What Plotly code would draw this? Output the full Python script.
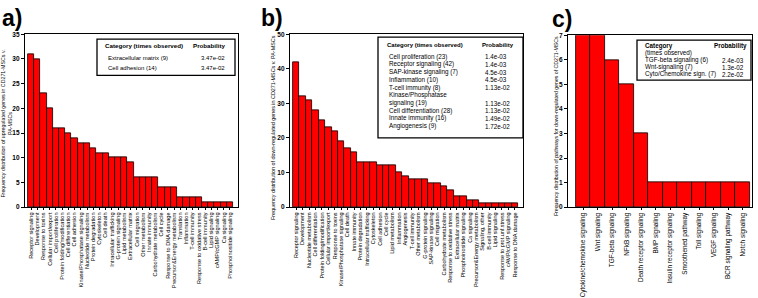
import plotly.graph_objects as go

W, H = 758, 298

# ---------------- data ----------------
cats_a = ["Receptor signaling", "Development", "Response to toxins", "Cellular import/export",
          "Cell proliferation", "Protein folding/modification", "Cell differentiation", "Cell adhesion",
          "Kinase/Phosphatase signaling", "Nucleotide metabolism", "Protein degradation", "Cytoskeleton",
          "Cell death", "Intracellular trafficking", "G-protein signaling", "Lipid metabolism",
          "Extracellular matrix", "Cell migration", "Other metabolism", "Innate immunity",
          "Carbohydrate metabolism", "Cell cycle", "Response to DNA damage", "Precursor&Energy metabolism",
          "Translation", "Inflammation", "T-cell immunity", "Response to oxidative stress",
          "B-cell immunity", "Lipid signaling", "cAMP/cGMP signaling", "Ca signaling",
          "Phosphoinositide signaling"]
vals_a = [31, 30, 23, 20, 16, 16, 15, 14, 13, 13, 12, 11, 11, 10, 10, 10, 9, 6, 6, 6, 6,
          4, 4, 4, 2, 2, 2, 2, 1, 1, 1, 1, 1]

cats_b = ["Receptor signaling", "Development", "Nucleotide metabolism", "Cell differentiation",
          "Protein folding/modification", "Cellular import/export", "Response to toxins",
          "Kinase/Phosphatase signaling", "Cell death", "Innate immunity", "Protein degradation",
          "Intracellular trafficking", "Cytoskeleton", "Cell adhesion", "Cell cycle", "Lipid metabolism",
          "Inflammation", "Angiogenesis", "T-cell immunity", "Other metabolism", "G-protein signaling",
          "SAP-kinase signaling", "Cell migration", "Carbohydrate metabolism",
          "Response to oxidative stress", "Extracellular matrix", "Phosphoinositide signaling",
          "Ca signaling", "Precursor&Energy metabolism", "Signaling, other", "B-cell immunity",
          "Lipid signaling", "Response to prot.unf.stress", "cAMP/cGMP signaling",
          "Response to DNA damage"]
vals_b = [42, 32, 31, 28, 25, 23, 22, 19, 17, 16, 13, 13, 13, 12, 12, 12, 10, 9, 8, 8, 8,
          7, 7, 6, 5, 3, 3, 2, 2, 1, 1, 1, 1, 1, 1]

cats_c = ["Cytokine/chemokine signaling", "Wnt signaling", "TGF-beta signaling", "NFkB signaling",
          "Death receptor signaling", "BMP signaling", "Insulin receptor signaling",
          "Smoothened pathway", "Toll signaling", "VEGF signaling", "BCR signaling pathway",
          "Notch signaling"]
vals_c = [7, 7, 6, 5, 3, 1, 1, 1, 1, 1, 1, 1]

leg_a_names = ["Extracellular matrix (9)", "Cell adhesion (14)"]
leg_a_probs = ["3.47e-02", "3.47e-02"]
leg_b_names = ["Cell proliferation (23)", "Receptor signaling (42)", "SAP-kinase signaling (7)",
               "Inflammation (10)", "T-cell immunity (8)", "Kinase/Phosphatase", "signaling (19)",
               "Cell differentiation (28)", "Innate immunity (16)", "Angiogenesis (9)"]
leg_b_probs = ["1.4e-03", "1.4e-03", "4.5e-03", "4.5e-03", "1.13e-02", "", "1.13e-02",
               "1.13e-02", "1.49e-02", "1.72e-02"]
leg_c_names = ["TGF-beta signaling (6)", "Wnt-signaling (7)", "Cyto/Chemokine sign. (7)"]
leg_c_probs = ["2.4e-03", "1.3e-02", "2.2e-02"]

FONT = "Arial, Liberation Sans, sans-serif"


def px(x):
    return x / W


def py(y):
    return 1 - y / H


fig = go.Figure()
for i, (c, v) in enumerate([(cats_a, vals_a), (cats_b, vals_b), (cats_c, vals_c)]):
    sfx = "" if i == 0 else str(i + 1)
    fig.add_trace(go.Bar(x=c, y=v, xaxis="x" + sfx, yaxis="y" + sfx,
                         marker=dict(color="#ff0000", line=dict(color="black", width=0.8)),
                         showlegend=False))

panels = [
    # x0, x1 (px), y top, y bottom, yrange, dtick, xrange, xfont
    (25, 238, 31, 208, [0, 35], 5, [-0.98, 33.3], 5.6),
    (290, 523, 31, 208, [0, 50], 10, [-0.97, 35.28], 5.5),
    (568, 752, 32, 208, [0, 7], 1, [-1.05, 11.64], 6.4),
]

layout = dict(width=W, height=H, margin=dict(l=0, r=0, t=0, b=0),
              paper_bgcolor="white", plot_bgcolor="white", bargap=0,
              font=dict(family=FONT, color="black"))
for i, (x0, x1, yt, yb, yr, dt, xr, xf) in enumerate(panels):
    sfx = "" if i == 0 else str(i + 1)
    layout["xaxis" + sfx] = dict(domain=[px(x0), px(x1)], anchor="y" + sfx, type="category",
                                 range=xr, tickmode="linear", tick0=0, dtick=1,
                                 showline=True, linecolor="black", linewidth=1.3,
                                 mirror=True, ticks="outside", ticklen=2, tickcolor="black",
                                 tickangle=-90, tickfont=dict(size=xf, family=FONT),
                                 showgrid=False, zeroline=False, fixedrange=True)
    layout["yaxis" + sfx] = dict(domain=[py(yb), py(yt)], anchor="x" + sfx, range=yr, dtick=dt,
                                 showline=True, linecolor="black", linewidth=1.3, mirror=True,
                                 ticks="outside", ticklen=3, tickcolor="black",
                                 tickfont=dict(size=6.5, family=FONT),
                                 tickprefix="<b>", ticksuffix="</b>",
                                 showgrid=False, zeroline=False)
fig.update_layout(**layout)

ann = []
shapes = []


def text(x, y, s, size=6, bold=False, xanchor="left", angle=0):
    ann.append(dict(x=px(x), y=py(y), xref="paper", yref="paper", text=("<b>%s</b>" % s) if bold else s,
                    showarrow=False, xanchor=xanchor, yanchor="middle", textangle=angle,
                    font=dict(size=size, family=FONT, color="black")))


# panel letters
text(0, 14, "a)", size=23, bold=True)
text(259, 14, "b)", size=23, bold=True)
text(550, 15, "c)", size=23, bold=True)

# axis titles
ann.append(dict(x=px(6.5), y=py(123), xref="paper", yref="paper",
                text="Frequency distribution of upregulated genes in CD271-MSCs v.<br>PA-MSCs",
                showarrow=False, textangle=-90, xanchor="center", yanchor="middle",
                font=dict(size=5.3, family=FONT, color="black")))
text(273, 127, "Frequency distribution of down-regulated genes in CD271-MSCs v. PA-MSCs",
     size=5.4, xanchor="center", angle=-90)
text(556, 125, "Frequency distribution of pathways for down-regulated genes of CD271-MSCs",
     size=5.2, xanchor="center", angle=-90)


def box(x0, y0, x1, y1):
    shapes.append(dict(type="rect", xref="paper", yref="paper", x0=px(x0), x1=px(x1),
                       y0=py(y1), y1=py(y0), line=dict(color="black", width=1.3),
                       fillcolor="white", layer="above"))


# legend a
box(97, 36, 235, 73)
text(103, 43, "Category (times observed)", size=6.2, bold=True)
text(228, 43, "Probability", size=6.2, bold=True, xanchor="right")
for k, (n, p) in enumerate(zip(leg_a_names, leg_a_probs)):
    text(106, 55 + k * 11, n, size=6)
    text(227, 55 + k * 11, p, size=6, xanchor="right")

# legend b
box(378, 34, 523, 137)
text(385, 42, "Category (times observed)", size=6.0, bold=True)
text(480, 42, "Probability", size=6.0, bold=True)
for k, (n, p) in enumerate(zip(leg_b_names, leg_b_probs)):
    yy = 54 + k * 7.9
    text(387, yy, n, size=6.3)
    if p:
        text(483, yy, p, size=6.3)

# legend c
box(637, 37, 751, 78)
text(643, 43, "Category", size=6.3, bold=True)
text(749, 43, "Probability", size=6.3, bold=True, xanchor="right")
text(643, 50, "(times observed)", size=6.3)
for k, (n, p) in enumerate(zip(leg_c_names, leg_c_probs)):
    yy = 57.5 + k * 7.3
    text(643, yy, n, size=6.3)
    text(746, yy, p, size=6.3, xanchor="right")

fig.update_layout(annotations=ann, shapes=shapes)
fig.write_html("out.html", config={"displayModeBar": False},
               post_script="document.body.style.margin='0';document.body.style.overflow='hidden';")
